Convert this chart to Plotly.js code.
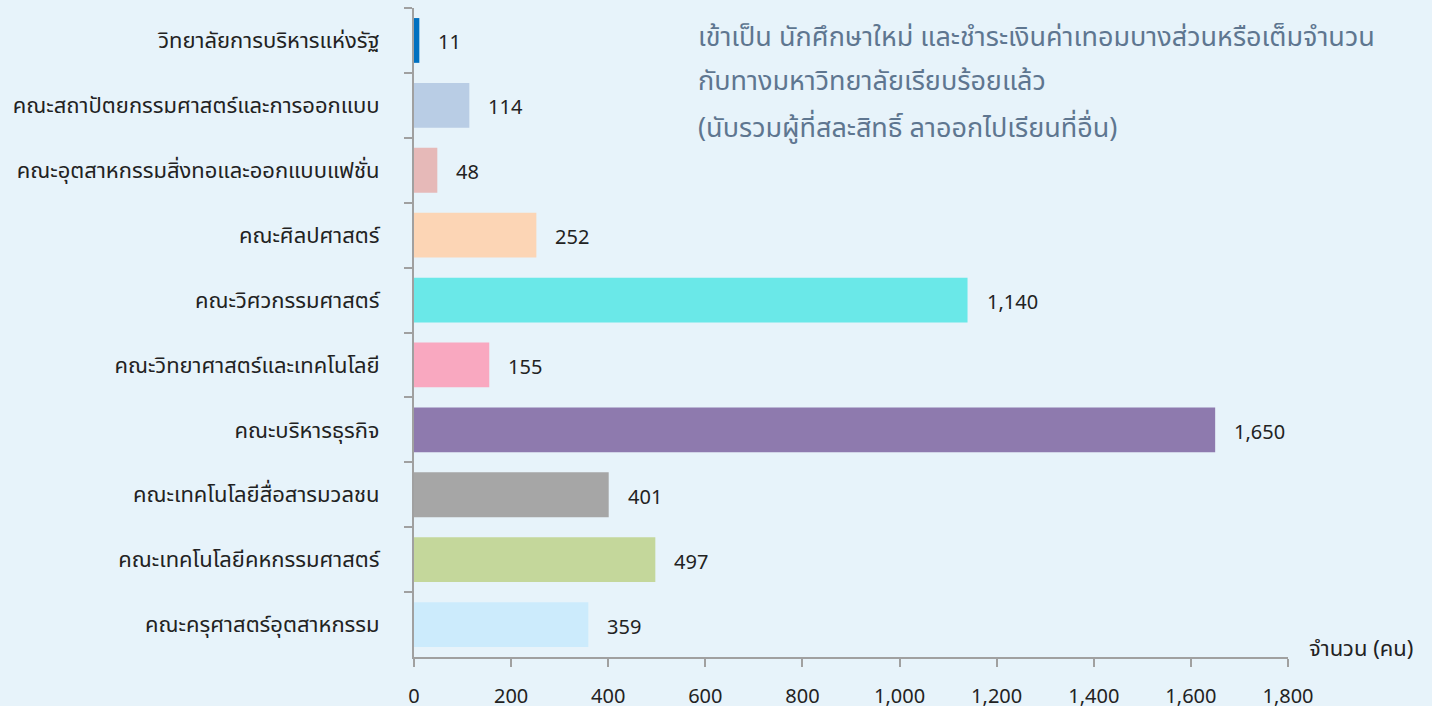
<!DOCTYPE html>
<html>
<head>
<meta charset="utf-8">
<script src="https://cdn.plot.ly/plotly-3.0.1.min.js"></script>
<style>html,body{margin:0;padding:0;background:#E7F3FA;}#chart{width:1432px;height:706px;}</style>
</head>
<body>
<div id="chart"></div>
<script>
const categories = [
  "วิทยาลัยการบริหารแห่งรัฐ",
  "คณะสถาปัตยกรรมศาสตร์และการออกแบบ",
  "คณะอุตสาหกรรมสิ่งทอและออกแบบแฟชั่น",
  "คณะศิลปศาสตร์",
  "คณะวิศวกรรมศาสตร์",
  "คณะวิทยาศาสตร์และเทคโนโลยี",
  "คณะบริหารธุรกิจ",
  "คณะเทคโนโลยีสื่อสารมวลชน",
  "คณะเทคโนโลยีคหกรรมศาสตร์",
  "คณะครุศาสตร์อุตสาหกรรม"
];
const students = [11, 114, 48, 252, 1140, 155, 1650, 401, 497, 359];
const barColors = ["#0070C0","#B9CDE5","#E6B9B8","#FCD5B5","#6AE8E8","#F9A8C0","#8E7AAE","#A6A6A6","#C4D79B","#CCEBFC"];
const tickValues = [0,200,400,600,800,1000,1200,1400,1600,1800];
const tickLabels = ["0","200","400","600","800","1,000","1,200","1,400","1,600","1,800"];
const noteLines = [
  "เข้าเป็น นักศึกษาใหม่ และชำระเงินค่าเทอมบางส่วนหรือเต็มจำนวน",
  "กับทางมหาวิทยาลัยเรียบร้อยแล้ว",
  "(นับรวมผู้ที่สละสิทธิ์ ลาออกไปเรียนที่อื่น)"
];
const axisTitle = "จำนวน (คน)";

const FONT = "Tahoma, 'Noto Sans Thai', 'Noto Sans', 'DejaVu Sans', sans-serif";
const fmt = v => v.toLocaleString('en-US');

const annotations = students.map((v, i) => ({
  x: v, y: categories[i], xref: 'x', yref: 'y',
  text: fmt(v), showarrow: false, xanchor: 'left', yanchor: 'middle',
  xshift: 17, yshift: -3,
  font: {family: FONT, size: 20, color: '#222222'}
}));
const noteY = [0.9538, 0.886, 0.815];
noteLines.forEach((t, i) => annotations.push({
  x: 0.3225, y: noteY[i], xref: 'paper', yref: 'paper',
  text: t, showarrow: false, xanchor: 'left', yanchor: 'middle',
  font: {family: FONT, size: 27, color: '#5E7690'}
}));
annotations.push({
  x: 1.022, y: 0.0108, xref: 'paper', yref: 'paper',
  text: axisTitle, showarrow: false, xanchor: 'left', yanchor: 'middle',
  font: {family: FONT, size: 22, color: '#222222'}
});

const trace = {
  type: 'bar', orientation: 'h',
  x: students, y: categories,
  marker: {color: barColors, line: {width: 0}},
  hoverinfo: 'x+y'
};

const layout = {
  width: 1432, height: 706,
  margin: {l: 414, r: 144, t: 8, b: 49, pad: 0},
  paper_bgcolor: '#E7F3FA', plot_bgcolor: '#E7F3FA',
  bargap: 0.31,
  showlegend: false,
  font: {family: FONT, color: '#222222'},
  xaxis: {
    range: [0, 1800], tickvals: tickValues, ticktext: tickLabels,
    showgrid: false, zeroline: false,
    showline: true, linecolor: '#A0A0A0', linewidth: 2,
    ticks: 'outside', ticklen: 8, tickwidth: 2, tickcolor: '#A0A0A0',
    tickfont: {family: FONT, size: 20, color: '#222222'},
    ticklabelstandoff: 12,
    fixedrange: true
  },
  yaxis: {
    type: 'category', autorange: 'reversed',
    showgrid: false, zeroline: false,
    showline: true, linecolor: '#A0A0A0', linewidth: 2,
    ticks: 'outside', ticklen: 8, tickwidth: 2, tickcolor: '#A0A0A0',
    tickson: 'boundaries',
    tickfont: {family: FONT, size: 22, color: '#222222'},
    ticklabelstandoff: 28,
    fixedrange: true
  },
  annotations: annotations
};

Plotly.newPlot('chart', [trace], layout, {displayModeBar: false, staticPlot: true});
</script>
</body>
</html>
